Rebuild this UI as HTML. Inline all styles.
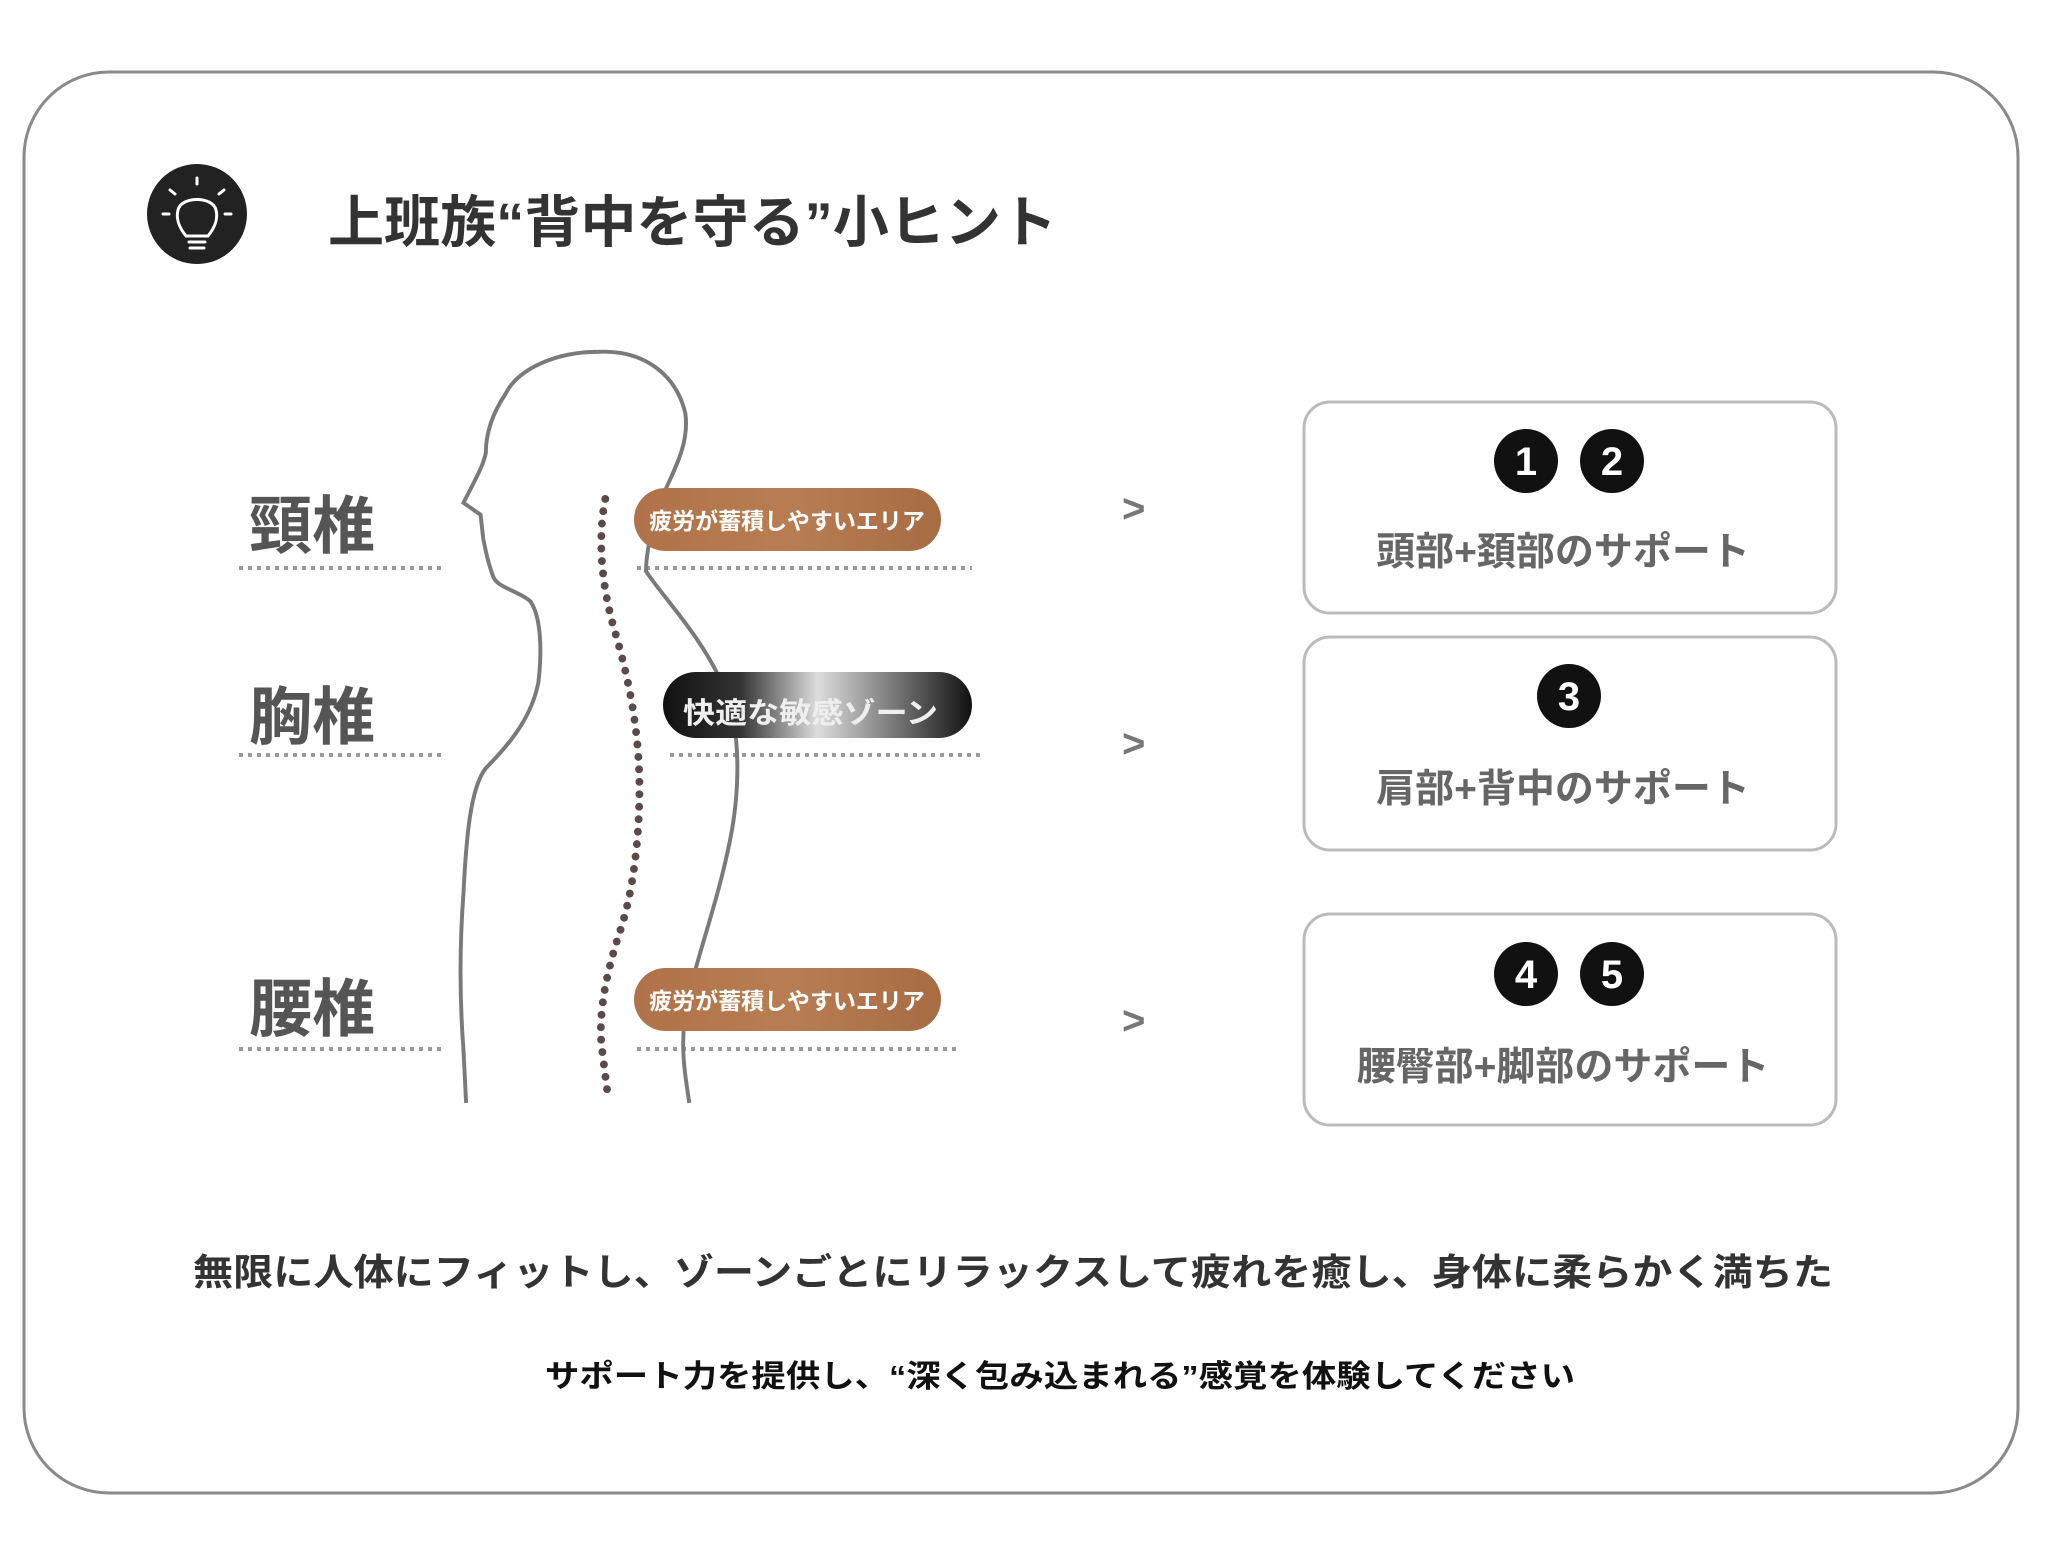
<!DOCTYPE html>
<html><head><meta charset="utf-8"><style>
html,body{margin:0;padding:0;background:#fff;}
svg{display:block;}
text{font-family:"Liberation Sans","Noto Sans CJK JP",sans-serif;font-weight:bold;}
</style></head><body>
<svg width="2048" height="1555" viewBox="0 0 2048 1555" xmlns="http://www.w3.org/2000/svg">
<defs>
<linearGradient id="br" x1="0" x2="1" y1="0" y2="0">
<stop offset="0" stop-color="#b07248"/><stop offset="0.5" stop-color="#b97d52"/><stop offset="1" stop-color="#a86c45"/>
</linearGradient>
<linearGradient id="dk" x1="0" x2="1">
<stop offset="0" stop-color="#111"/><stop offset="0.25" stop-color="#333"/><stop offset="0.5" stop-color="#ddd"/><stop offset="0.75" stop-color="#777"/><stop offset="1" stop-color="#111"/>
</linearGradient>
</defs>
<rect x="24" y="72" width="1994" height="1421" rx="85" fill="#fff" stroke="#8a8a8a" stroke-width="3"/>
<circle cx="197" cy="214" r="50" fill="#222"/>
<g stroke="#fff" stroke-width="3" fill="none" stroke-linecap="round">
<path d="M186 236 C178 226 176 218 178 210 C181 196 213 196 216 210 C218 218 216 226 208 236 Z"/>
<path d="M189 242 L205 242 M190 248 L204 248"/>
<path d="M197 178 L197 184 M170 190 L175 194 M224 190 L219 194 M163 214 L169 214 M231 214 L225 214"/>
</g>
<text x="328" y="242" font-size="56" fill="#333" textLength="729" lengthAdjust="spacingAndGlyphs">上班族“背中を守る”小ヒント</text>

<g font-size="63" fill="#555">
<text x="249" y="548">頸椎</text><text x="249" y="739">胸椎</text><text x="249" y="1031">腰椎</text>
</g>
<g stroke="#999" stroke-width="4" stroke-dasharray="4 5">
<line x1="239" y1="568" x2="446" y2="568"/><line x1="239" y1="755" x2="446" y2="755"/><line x1="239" y1="1049" x2="446" y2="1049"/>
<line x1="637" y1="568" x2="972" y2="568"/><line x1="670" y1="755" x2="985" y2="755"/><line x1="637" y1="1049" x2="958" y2="1049"/>
</g>

<g transform="scale(1.313)" fill="none">
<path d="M455 268 C490 266 515 285 522 315 C526 345 505 370 498 395 C494 415 492 425 492 435 C505 455 535 485 552 525 C564 555 564 600 556 640 C546 690 530 730 522 770 C518 800 522 820 525 840" stroke="#7a7a7a" stroke-width="3"/>
<path d="M455 268 C425 268 395 280 385 300 C375 315 370 330 370 345 C368 355 362 365 353 383 L366 392 L368 410 C370 420 372 430 376 440 C380 448 395 450 404 458 C412 470 413 495 410 520 C405 545 390 565 370 585 C358 600 355 640 353 680 C350 720 350 760 353 800 L355 840" stroke="#7a7a7a" stroke-width="3"/>
<path d="M461 380 C455 410 458 445 468 480 C480 520 487 560 487 600 C487 640 482 680 472 710 C462 740 456 770 458 795 L463 835" stroke="#5a4a4a" stroke-width="6" stroke-linecap="round" stroke-dasharray="0 9.5"/>
</g>

<rect x="634" y="488" width="307" height="63" rx="31.5" fill="url(#br)"/>
<text x="787" y="529" font-size="23" fill="#fff" text-anchor="middle">疲労が蓄積しやすいエリア</text>
<rect x="663" y="672" width="309" height="66" rx="33" fill="url(#dk)"/>
<text x="683" y="723" font-size="29" fill="#eee" textLength="255" lengthAdjust="spacingAndGlyphs">快適な敏感ゾーン</text>
<rect x="634" y="968" width="307" height="63" rx="31.5" fill="url(#br)"/>
<text x="787" y="1009" font-size="23" fill="#fff" text-anchor="middle">疲労が蓄積しやすいエリア</text>

<g font-size="40" fill="#777" font-family="Liberation Sans" font-weight="normal">
<text x="1122" y="522">&gt;</text><text x="1122" y="757">&gt;</text><text x="1122" y="1034">&gt;</text>
</g>

<g fill="#fff" stroke="#bbb" stroke-width="3">
<rect x="1304" y="402" width="532" height="211" rx="26"/>
<rect x="1304" y="637" width="532" height="213" rx="26"/>
<rect x="1304" y="914" width="532" height="211" rx="26"/>
</g>
<g fill="#111">
<circle cx="1526" cy="461" r="32"/><circle cx="1612" cy="461" r="32"/>
<circle cx="1569" cy="696" r="32"/>
<circle cx="1526" cy="974" r="32"/><circle cx="1612" cy="974" r="32"/>
</g>
<g fill="#fff" font-size="40" font-weight="normal" text-anchor="middle" font-family="Liberation Sans">
<text x="1526" y="475">1</text><text x="1612" y="475">2</text>
<text x="1569" y="710">3</text>
<text x="1526" y="988">4</text><text x="1612" y="988">5</text>
</g>
<g font-size="39" fill="#666" text-anchor="middle">
<text x="1563" y="565">頭部+頚部のサポート</text>
<text x="1563" y="802">肩部+背中のサポート</text>
<text x="1563" y="1080">腰臀部+脚部のサポート</text>
</g>

<text x="193" y="1285" font-size="37" fill="#333" textLength="1640" lengthAdjust="spacingAndGlyphs">無限に人体にフィットし、ゾーンごとにリラックスして疲れを癒し、身体に柔らかく満ちた</text>
<text x="545" y="1387" font-size="31" fill="#111" textLength="1030" lengthAdjust="spacingAndGlyphs">サポート力を提供し、“深く包み込まれる”感覚を体験してください</text>
</svg>
</body></html>
